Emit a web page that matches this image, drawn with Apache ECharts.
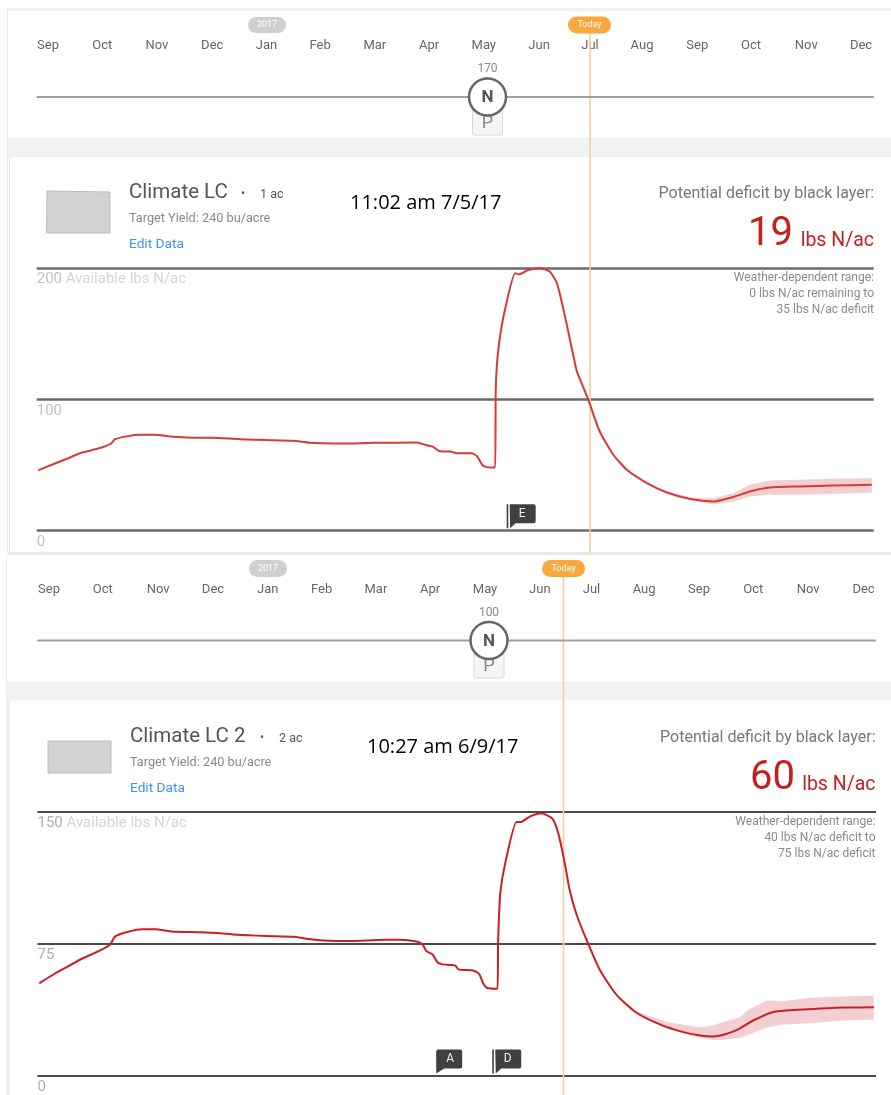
<!DOCTYPE html>
<html><head><meta charset="utf-8">
<style>html,body{margin:0;padding:0;background:#fff}#c{width:891px;height:1095px}</style>
<script src="https://cdn.jsdelivr.net/npm/echarts@6/dist/echarts.min.js"></script>
</head><body><div id="c"></div>
<script>
// x values are month positions: 0 = first Sep, 15 = last Dec
const months = ['Sep','Oct','Nov','Dec','Jan','Feb','Mar','Apr','May','Jun','Jul','Aug','Sep','Oct','Nov','Dec'];
const monthPos1 = [0,1,2.01,3.03,4.03,5.02,6.03,7.03,8.04,9.06,10,10.96,11.98,12.97,13.99,15];
const monthPos2 = [0,0.99,2.01,3.02,4.03,5.02,6.02,7.02,8.03,9.04,9.99,10.96,11.97,12.97,13.98,15];

const x1 = [-0.18,0.07,0.35,0.59,0.96,1.16,1.24,1.48,1.70,1.97,2.25,2.56,3.04,3.54,4.03,4.52,4.83,5.26,5.63,6.00,6.80,6.92,7.10,7.20,7.29,7.42,7.54,7.82,7.92,8.01,8.09,8.25,8.26,8.28,8.33,8.43,8.62,8.69,8.86,9.08,9.26,9.39,9.54,9.75,9.82,9.97,10.18,10.43,10.68,11.05,11.42,11.85,12.28,12.64,12.95,13.32,13.87,14.49,15.20];
const y1 = [45.9,50.2,54.8,59,62.9,66.2,69.7,72,73,73,71.7,71,70.7,69.7,69,68.4,67,66.4,66.4,66.9,67.1,65.9,64,61,60.3,60.3,59,59,56.5,50.2,48.4,48.1,104.7,125,145,168,196,195.2,198.5,199.8,197.2,188.4,163,122.4,114.8,99.6,75.5,57.8,46.4,36.3,29.1,24.1,22.3,25.6,29.9,32.9,33.7,34.4,35];
const bandX1 = [11.05,11.42,11.85,12.28,12.64,12.95,13.32,13.87,14.49,15.20];
const bandLow1 = [36,28.5,23.3,20,22.3,26.1,27.4,27.4,27.9,29.1];
const bandHigh1 = [36.6,30,25.2,24.8,28.6,35,38.3,38.8,39.5,40];

const x2 = [-0.18,0.08,0.29,0.57,0.94,1.12,1.22,1.46,1.71,1.95,2.26,2.78,3.09,3.46,4.01,4.50,4.75,5.05,5.54,6.03,6.46,6.77,6.88,6.95,7.07,7.15,7.23,7.38,7.48,7.54,7.81,7.92,8.0,8.07,8.26,8.27,8.31,8.40,8.61,8.69,8.86,9.07,9.27,9.38,9.50,9.59,9.72,9.93,10.15,10.46,10.82,11.25,11.68,11.99,12.23,12.42,12.67,12.97,13.34,13.77,14.14,14.63,15.19];
const y2 = [52.4,57.5,61.1,65.9,71.2,74.4,79.2,81.8,83.2,83.2,82,81.5,81.1,80.1,79.4,79,77.9,76.9,76.5,77.1,77.3,76.3,74.6,70.8,68.7,64.6,63.4,62.9,62.7,60.4,59.8,57.9,52.2,49.8,49.4,75,103.5,120.6,144.3,144.3,147.5,149.3,146.2,137.7,120.6,105.4,91.2,75,59.8,45.6,35.7,29.1,24.7,22.8,22.2,23.2,26,31.3,36.1,37.4,38,38.7,38.9];
const bandX2 = [10.46,10.82,11.38,11.99,12.23,12.42,12.73,12.85,13.22,13.52,14.01,14.63,15.19];
const bandLow2 = [45.4,35,26.6,21.5,20.3,20.3,21.5,22.8,27.5,29.1,29.8,31.3,31.9];
const bandHigh2 = [45.8,36.5,30.4,27.5,28.5,30.4,33.2,37,42.7,42.2,44.2,45,45.6];

const eventNames1 = ['E'], eventX1 = [8.73], eventY1 = [11];
const eventNames2 = ['A','D'], eventX2 = [7.37,8.43], eventY2 = [8,8];
const today1 = 10.0, today2 = 9.475;

const FONT = 'Roboto, sans-serif';
const RED1 = '#d83a38', RED2 = '#cc1f24';

const panels = [
 {gridL:36.7,gridW:837,gridT:268,gridH:262.7,xMin:-0.208,xMax:15.234,yMax:200,yInt:100,lineC:'#6a6a6a',lineW:2.5,
  x:x1,y:y1,bx:bandX1,bl:bandLow1,bh:bandHigh1,bandC:'rgba(222,120,120,0.35)',red:RED1,lineWidth:2,
  today:today1,tRange:[-16,381],names:eventNames1,ex:eventX1,ey:eventY1,mp:monthPos1,
  mL:48,mW:813,mT:38,labelC:'#c2c2c2'},
 {gridL:37.5,gridW:838.5,gridT:812,gridH:263.5,xMin:-0.212,xMax:15.23,yMax:150,yInt:75,lineC:'#4a4a4a',lineW:2,
  x:x2,y:y2,bx:bandX2,bl:bandLow2,bh:bandHigh2,bandC:'rgba(214,110,120,0.33)',red:RED2,lineWidth:2,
  today:today2,tRange:[-11,285],names:eventNames2,ex:eventX2,ey:eventY2,mp:monthPos2,
  mL:49,mW:814.5,mT:582,labelC:'#aeaeae'}
];

const flagPole = 'path://M0 0H1.6V24H0Z M3 0H27Q29 0 29 2V17Q29 19 27 19H9L3.5 24Z';
const flagPlain = 'path://M2 0H24Q26 0 26 2V17Q26 19 24 19H8L0 24V2Q0 0 2 0Z';

const grid=[],xAxis=[],yAxis=[],series=[];
panels.forEach((p,i)=>{
  const g=i*2, m=i*2+1;
  grid.push({left:p.gridL,width:p.gridW,top:p.gridT,height:p.gridH});
  grid.push({left:p.mL,width:p.mW,top:p.mT,height:1});
  xAxis.push({gridIndex:g,type:'value',min:p.xMin,max:p.xMax,show:false});
  xAxis.push({gridIndex:m,type:'value',min:0,max:15,axisLine:{show:false},axisTick:{show:false},splitLine:{show:false},
    axisLabel:{customValues:p.mp,margin:0,hideOverlap:false,fontFamily:FONT,fontSize:13,color:'#666',lineHeight:14,
      formatter:v=>months[p.mp.indexOf(v)]}});
  yAxis.push({gridIndex:g,type:'value',min:0,max:p.yMax,interval:p.yInt,
    axisLine:{show:false},axisTick:{show:false},
    splitLine:{show:true,lineStyle:{color:p.lineC,width:p.lineW}},
    axisLabel:{inside:true,margin:0,align:'left',verticalAlign:'top',padding:[4,0,0,0],showMaxLabel:true,showMinLabel:true,hideOverlap:false,
      fontFamily:FONT,fontSize:15,color:p.labelC,
      formatter:v=>v===p.yMax?'{a|'+v+'} {b|Available lbs N/ac}':String(v),
      rich:{a:{fontFamily:FONT,fontSize:15,color:p.labelC},b:{fontFamily:FONT,fontSize:15,color:'#d4d4d4'}}}});
  yAxis.push({gridIndex:m,type:'value',show:false});
  const bandData=p.bx.map((x,j)=>[x,p.bl[j],p.bh[j]]);
  series.push({type:'custom',xAxisIndex:g,yAxisIndex:g,silent:true,z:3,data:bandData,
    encode:{x:0,y:[1,2]},
    renderItem:(params,api)=>{
      if(params.dataIndex!==0) return null;
      const up=bandData.map(d=>api.coord([d[0],d[2]]));
      const lo=bandData.map(d=>api.coord([d[0],d[1]])).reverse();
      return {type:'polygon',shape:{points:up.concat(lo)},style:{fill:p.bandC}};
    }});
  series.push({type:'line',xAxisIndex:g,yAxisIndex:g,silent:true,z:5,showSymbol:false,symbol:'none',
    smooth:0.2,
    data:p.x.map((x,j)=>[x,p.y[j]]),clip:false,lineStyle:{color:p.red,width:p.lineWidth,join:'round'}});
  series.push({type:'line',xAxisIndex:g,yAxisIndex:g,silent:true,z:4,showSymbol:false,symbol:'none',clip:false,
    data:[[p.today,p.tRange[0]],[p.today,p.tRange[1]]],lineStyle:{color:'#f8cf9c',width:1.6}});
  series.push({type:'scatter',xAxisIndex:g,yAxisIndex:g,silent:true,z:6,
    data:p.ex.map((x,j)=>({value:[x,p.ey[j]],name:p.names[j],
      symbol:p.names[j]==='A'?flagPlain:flagPole,symbolSize:p.names[j]==='A'?[26,24]:[29,24],
      label:{show:true,position:'inside',offset:[1,-2],formatter:p.names[j],color:'#eee',fontFamily:FONT,fontSize:12}})),
    itemStyle:{color:'#3e4042',opacity:1}});
});

function T(x,y,text,o){return {type:'text',x:x,y:y,z:10,style:Object.assign({text:text,fontFamily:FONT,verticalAlign:'middle'},o)};}
function R(x,y,w,h,fill,o){return Object.assign({type:'rect',z:1,shape:Object.assign({x:x,y:y,width:w,height:h},o&&o.shape||{}),style:Object.assign({fill:fill},o&&o.style||{})},o&&o.z?{z:o.z}:{});}
function pill(cx,cy,w,h,fill,txt){return [
  R(cx-w/2,cy-h/2,w,h,fill,{shape:{r:h/2},z:8}),
  T(cx,cy,txt,{fill:'#fff',fontSize:9,align:'center'})];}
function slider(y,x0,x1,cx,pBottom,val,valY){return [
  {type:'line',z:7,shape:{x1:x0,y1:y,x2:x1,y2:y},style:{stroke:'#a0a0a0',lineWidth:2}},
  R(cx-15,y+10,30,pBottom-y-10,'#f5f5f6',{shape:{r:2},style:{stroke:'#d8d8d8',lineWidth:1},z:7}),
  T(cx,y+26,'P',{fill:'#888',fontSize:18,align:'center'}),
  {type:'circle',z:11,shape:{cx:cx,cy:y,r:18.5},style:{fill:'#fff',stroke:'#666',lineWidth:2.5}},
  Object.assign(T(cx,y+1,'N',{fill:'#555',fontSize:17,fontWeight:'bold',align:'center'}),{z:12}),
  T(cx,valY,val,{fill:'#888',fontSize:12,align:'center'})];}
function header(dx,dy,title,dotX,acX,ac,stamp,stampX,big,bigX,rng1,rng2,right,red,field){
  return [
   {type:'polygon',z:2,shape:{points:field},style:{fill:'#d2d2d2',stroke:'#bdbdbd',lineWidth:1}},
   T(129+dx,192.5+dy,title,{fill:'#555',fontSize:20.5}),
   T(dotX,194+dy,'•',{fill:'#555',fontSize:12}),
   T(acX,195+dy,ac,{fill:'#555',fontSize:12.5}),
   T(129+dx,218.5+dy,'Target Yield: 240 bu/acre',{fill:'#888',fontSize:12.7}),
   T(129+dx,245+dy,'Edit Data',{fill:'#3d94ee',fontSize:13.7}),
   T(stampX,203+dy,stamp,{fill:'#000',fontSize:20,fontFamily:'"Open Sans", sans-serif'}),
   T(right,194+dy,'Potential deficit by black layer:',{fill:'#777',fontSize:16,align:'right'}),
   T(bigX,235+dy,big,{fill:red,fontSize:40,align:'right'}),
   T(right,241+dy,'lbs N/ac',{fill:red,fontSize:19.5,align:'right'}),
   T(right,277.5+dy,'Weather-dependent range:',{fill:'#8a8a8a',fontSize:12,align:'right'}),
   T(right,293.5+dy,rng1,{fill:'#8a8a8a',fontSize:12,align:'right'}),
   T(right,309.5+dy,rng2,{fill:'#8a8a8a',fontSize:12,align:'right'})];
}

const graphicEls=[
  R(7,8,884,3,'#f0f1f1'), R(7,8,1,545,'#e4e8e8'),
  R(8,137.5,883,19.5,'#f0f2f3'), R(9,157,1,395,'#dfe5e5'),
  R(8,552,883,3,'#e9e9e9'),
  R(6,555,1,540,'#e8ecec'),
  R(7,681.5,884,19,'#f0f2f3'), R(6,700,4,395,'#eef1f3'),
  ...pill(267,25,38,16,'#cfcfcf','2017'),
  ...pill(589.5,25,43,17,'#f9a83e','Today'),
  ...pill(268,568.5,38,17,'#cfcfcf','2017'),
  ...pill(563.5,568.5,43,17,'#f9a83e','Today'),
  ...slider(97,36.7,873.7,487.5,135,'170',69),
  ...slider(640.5,37.5,876,489,678,'100',613),
  ...header(0,0,'Climate LC',241,260,'1 ac','11:02 am 7/5/17',350,'19',793,'0 lbs N/ac remaining to','35 lbs N/ac deficit',874,'#c4201f',
     [[47,191],[110,192],[110,233],[46.5,233]]),
  ...header(1,544,'Climate LC 2',260,279,'2 ac','10:27 am 6/9/17',367,'60',795,'40 lbs N/ac deficit to','75 lbs N/ac deficit',875.5,'#c4201f',
     [[48,741],[111,741],[111,773],[48,773]])
];

const chart=echarts.init(document.getElementById('c'),null,{renderer:'canvas'});
chart.setOption({animation:false,backgroundColor:'#fff',grid,xAxis,yAxis,series,graphic:{elements:graphicEls}});
</script></body></html>
